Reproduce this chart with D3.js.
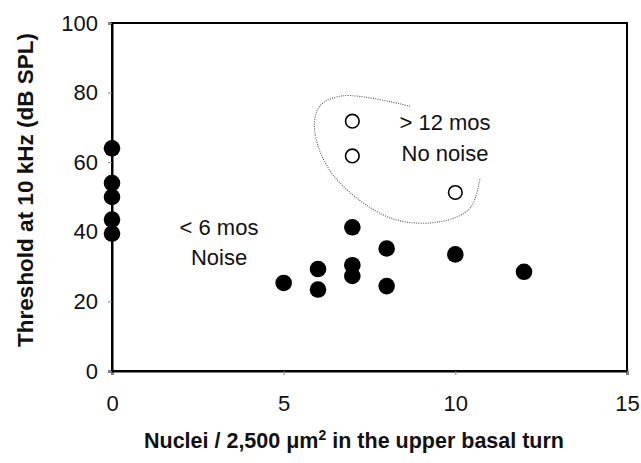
<!DOCTYPE html>
<html>
<head>
<meta charset="utf-8">
<script src="https://cdn.jsdelivr.net/npm/d3@7"></script>
<style>
  body { margin: 0; background: #fff; }
  text { font-family: "Liberation Sans", Arial, sans-serif; fill: #111; }
</style>
</head>
<body>
<div class="chart"></div>
<script>
// data
var noiseX = [0, 0, 0, 0, 0, 5, 6, 6, 7, 7, 7, 8, 8, 10, 12];
var noiseY = [64, 54, 50, 43.5, 39.5, 25.3, 29.3, 23.4, 41.3, 30.4, 27.3, 35.2, 24.4, 33.5, 28.5];
var quietX = [7, 7, 10];
var quietY = [71.8, 61.8, 51.3];
var xTicks = [0, 5, 10, 15];
var yTicks = [0, 20, 40, 60, 80, 100];
// dotted loop round the open circles (data units)
var loopX = [8.68, 6.73, 6.06, 5.9, 6.44, 8.1, 9.56, 10.43, 10.72];
var loopY = [76.1, 79.1, 76.2, 69.3, 56.3, 44.0, 42.9, 46.8, 55.5];

var margin = {top: 23, right: 14, bottom: 92, left: 112},
    width = 641 - margin.left - margin.right,
    height = 463 - margin.top - margin.bottom;

var x = d3.scaleLinear().domain([0, 15]).range([0, width]);
var y = d3.scaleLinear().domain([0, 100]).range([height, 0]);

var svg = d3.select(".chart").append("svg")
    .attr("width", 641)
    .attr("height", 463)
    .append("g")
    .attr("transform", "translate(" + margin.left + "," + margin.top + ")");

// frame
svg.append("rect")
    .attr("width", width)
    .attr("height", height)
    .attr("fill", "none")
    .attr("stroke", "#000")
    .attr("stroke-width", 2);

// axes
var xAxis = svg.append("g")
    .attr("transform", "translate(0," + height + ")")
    .call(d3.axisBottom(x).tickValues(xTicks).tickSize(4).tickPadding(20));
var yAxis = svg.append("g")
    .call(d3.axisLeft(y).tickValues(yTicks).tickSize(4).tickPadding(10));

[xAxis, yAxis].forEach(function(a) {
    a.select(".domain").attr("stroke", "#000").attr("stroke-width", 2);
    a.selectAll(".tick line").attr("stroke", "#888");
    a.selectAll(".tick text")
        .style("font-family", "'Liberation Sans', Arial, sans-serif")
        .style("font-size", "22px")
        .attr("fill", "#111");
});

// dotted loop
var loop = loopX.map(function(d, i) { return [d, loopY[i]]; });
svg.append("path")
    .datum(loop)
    .attr("fill", "none")
    .attr("stroke", "#555")
    .attr("stroke-width", 1.1)
    .attr("stroke-dasharray", "1,1.3")
    .attr("d", d3.line()
        .x(function(d) { return x(d[0]); })
        .y(function(d) { return y(d[1]); })
        .curve(d3.curveCatmullRom));

// filled points
svg.selectAll(".filled")
    .data(noiseX)
    .enter().append("circle")
    .attr("class", "filled")
    .attr("cx", function(d) { return x(d); })
    .attr("cy", function(d, i) { return y(noiseY[i]); })
    .attr("r", 8.3)
    .attr("fill", "#000");

// open points
svg.selectAll(".open")
    .data(quietX)
    .enter().append("circle")
    .attr("class", "open")
    .attr("cx", function(d) { return x(d); })
    .attr("cy", function(d, i) { return y(quietY[i]); })
    .attr("r", 6.8)
    .attr("fill", "#fff")
    .attr("stroke", "#000")
    .attr("stroke-width", 1.6);

// group labels
function label(txt, px, py) {
    svg.append("text")
        .attr("x", px)
        .attr("y", py)
        .attr("text-anchor", "middle")
        .style("font-size", "22px")
        .text(txt);
}
label("< 6 mos", 219 - margin.left, 235 - margin.top);
label("Noise", 219 - margin.left, 265 - margin.top);
label("> 12 mos", 445 - margin.left, 130 - margin.top);
label("No noise", 445 - margin.left, 161 - margin.top);

// axis titles
var xt = svg.append("text")
    .attr("x", 354 - margin.left)
    .attr("y", 448 - margin.top)
    .attr("text-anchor", "middle")
    .style("font-size", "21.5px")
    .style("font-weight", "bold");
xt.append("tspan").text("Nuclei / 2,500 \u03bcm");
xt.append("tspan").attr("dy", -8).style("font-size", "14px").text("2");
xt.append("tspan").attr("dy", 8).text(" in the upper basal turn");

svg.append("text")
    .attr("transform", "translate(" + (33 - margin.left) + "," + (190 - margin.top) + ") rotate(-90)")
    .attr("text-anchor", "middle")
    .style("font-size", "22.5px")
    .style("font-weight", "bold")
    .text("Threshold at 10 kHz (dB SPL)");
</script>
</body>
</html>
